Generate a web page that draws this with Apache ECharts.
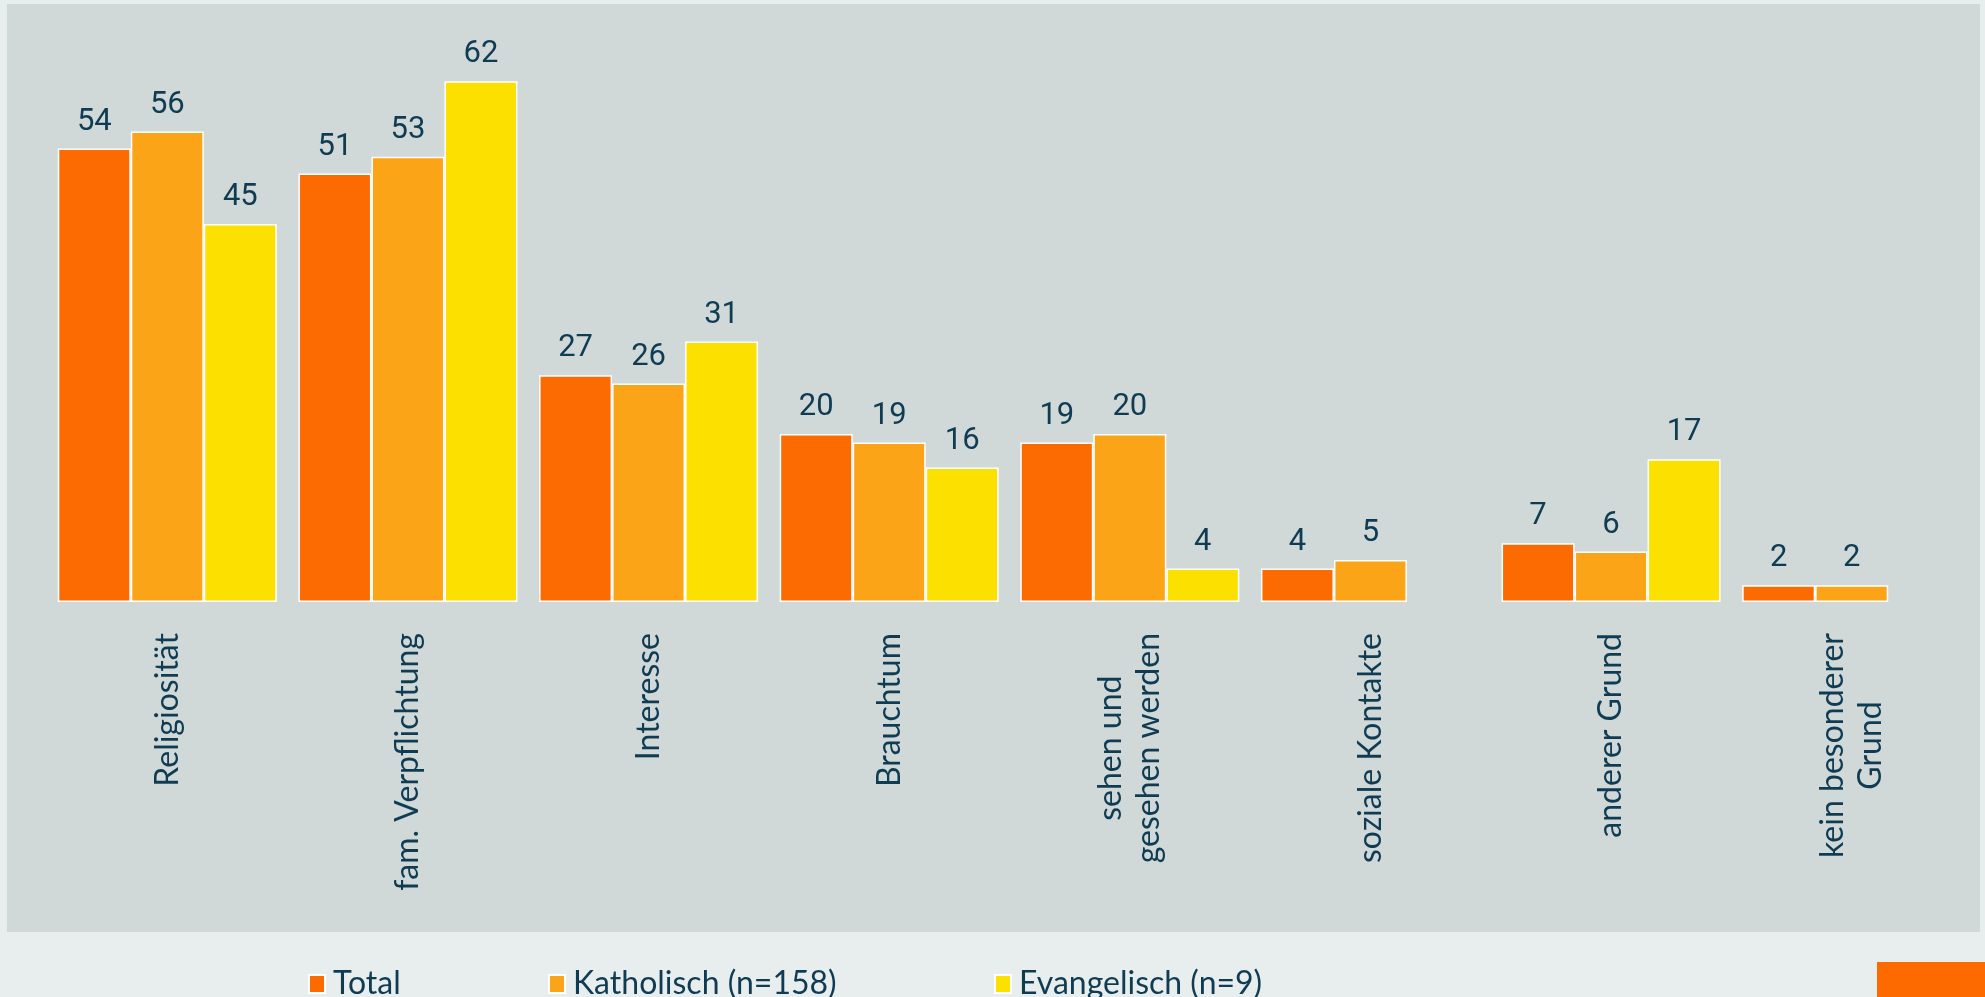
<!DOCTYPE html>
<html>
<head>
<meta charset="utf-8">
<script src="https://cdn.jsdelivr.net/npm/echarts@6/dist/echarts.min.js"></script>
<style>
  html, body { margin: 0; padding: 0; background: #e8eded; }
  #chart { width: 1985px; height: 997px; }
</style>
</head>
<body>
<div id="chart"></div>
<script>
  const categories = [
    'Religiosität',
    'fam. Verpflichtung',
    'Interesse',
    'Brauchtum',
    'sehen und\ngesehen werden',
    'soziale Kontakte',
    'anderer Grund',
    'kein besonderer\nGrund',
  ];
  const seriesNames = ['Total', 'Katholisch (n=158)', 'Evangelisch (n=9)'];
  const totalValues = [54, 51, 27, 20, 19, 4, 7, 2];
  const katholischValues = [56, 53, 26, 19, 20, 5, 6, 2];
  const evangelischValues = [45, 62, 31, 16, 4, null, 17, null];

  const colors = ['#fc6a02', '#fca418', '#fce100'];
  const textColor = '#0f3c53';
  // left edge of each legend entry
  const legendLefts = [303, 543, 989];

  const chart = echarts.init(document.getElementById('chart'));

  const barSeries = (name, data, color) => ({
    name: name,
    type: 'bar',
    data: data,
    barWidth: 73,
    barGap: '0%',
    itemStyle: {
      color: color,
      borderColor: '#ffffff',
      borderWidth: 1.5,
    },
    label: {
      show: true,
      position: 'top',
      distance: 11,
      color: textColor,
      fontFamily: 'Roboto',
      fontSize: 31,
    },
  });

  const legendFor = (name, i) => ({
    data: [name],
    left: legendLefts[i],
    top: 963,
    icon: 'rect',
    itemWidth: 16,
    itemHeight: 18,
    textStyle: {
      color: textColor,
      fontFamily: 'Lato',
      fontSize: 32,
      padding: [0, 0, 0, 3],
    },
  });

  const option = {
    backgroundColor: '#e8eded',
    animation: false,
    graphic: [
      {
        type: 'rect',
        z: -10,
        shape: { x: 7, y: 4, width: 1973, height: 928 },
        style: { fill: '#d0d9d8' },
      },
      {
        type: 'rect',
        z: -10,
        shape: { x: 1877, y: 962, width: 108, height: 35 },
        style: { fill: '#fd6a00' },
      },
    ],
    legend: seriesNames.map(legendFor),
    grid: {
      left: 47,
      right: 13,
      top: 14,
      bottom: 395,
    },
    xAxis: {
      type: 'category',
      data: categories,
      axisLine: { show: false },
      axisTick: { show: false },
      axisLabel: {
        interval: 0,
        rotate: 90,
        margin: 31,
        color: textColor,
        fontFamily: 'Lato',
        fontSize: 32,
        formatter: (val) => val.split('\n').map((s) => '{c|' + s + '}').join('\n'),
        rich: {
          c: {
            align: 'center',
            color: textColor,
            fontFamily: 'Lato',
            fontSize: 32,
            lineHeight: 38,
          },
        },
      },
    },
    yAxis: {
      type: 'value',
      min: 0,
      max: 70,
      show: false,
      splitLine: { show: false },
    },
    series: [
      barSeries(seriesNames[0], totalValues, colors[0]),
      barSeries(seriesNames[1], katholischValues, colors[1]),
      barSeries(seriesNames[2], evangelischValues, colors[2]),
    ],
  };

  chart.setOption(option);
</script>
</body>
</html>
